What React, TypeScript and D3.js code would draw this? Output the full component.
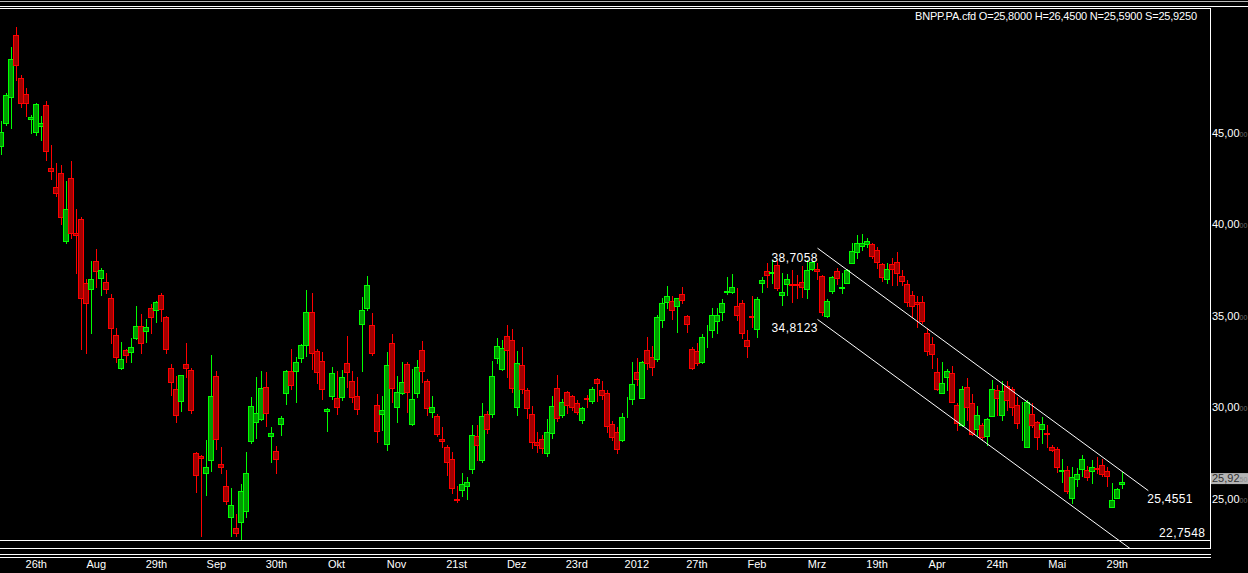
import React from 'react';
import * as d3 from 'd3';

// BNPP.PA daily candles (oldest first)
const open = [
  44.29, 45.55, 46.97, 50.36, 48.01, 47.13, 45.77, 45.06, 45.38, 46.53, 43.09, 42.05, 42.82, 39.10, 42.54, 39.54, 40.30, 36.80, 36.48, 38.01,
  37.08, 36.86, 35.98, 33.96, 32.16, 33.14, 33.03, 33.80, 34.45, 34.18, 35.44, 35.33, 36.15, 34.95, 32.16, 31.01, 30.36, 32.38, 32.05, 27.51,
  27.35, 26.42, 27.13, 31.72, 26.91, 25.71, 24.02, 23.42, 23.74, 24.35, 28.17, 29.21, 29.37, 31.12, 28.44, 27.62, 29.10, 30.79, 32.00, 32.00,
  32.71, 33.42, 35.22, 33.09, 32.54, 29.81, 30.63, 30.52, 30.57, 32.43, 31.45, 30.63, 34.56, 35.44, 34.51, 30.14, 29.65, 28.01, 33.53, 30.03,
  30.79, 32.38, 29.10, 30.79, 33.14, 31.45, 29.75, 29.54, 28.28, 27.84, 27.19, 25.00, 25.49, 25.71, 26.64, 28.44, 27.13, 29.65, 29.65, 32.71,
  32.10, 33.91, 33.69, 30.03, 32.32, 30.96, 29.65, 28.12, 28.28, 27.51, 28.61, 31.07, 29.59, 30.85, 30.63, 30.25, 29.32, 30.52, 30.36, 31.56,
  30.96, 30.79, 29.10, 28.66, 28.22, 29.79, 30.47, 31.94, 30.52, 33.14, 32.76, 32.65, 34.78, 35.77, 35.82, 35.55, 36.20, 35.00, 33.20, 33.09,
  32.49, 34.11, 34.24, 34.73, 35.22, 36.31, 36.31, 35.55, 35.71, 33.69, 35.00, 34.29, 36.80, 37.46, 37.35, 37.79, 36.15, 36.75, 36.75, 36.75,
  36.86, 36.48, 37.57, 37.57, 37.19, 35.00, 36.37, 37.46, 36.53, 36.80, 37.90, 38.50, 38.83, 38.93, 38.93, 38.61, 37.84, 37.02, 37.84, 37.95,
  37.19, 36.75, 36.15, 35.77, 35.77, 34.07, 33.47, 31.94, 30.79, 31.67, 31.89, 30.14, 29.04, 31.12, 30.25, 28.83, 29.04, 28.44, 29.54, 30.96,
  29.59, 31.18, 31.01, 30.14, 28.92, 27.84, 29.65, 29.21, 28.83, 28.63, 27.84, 27.73, 26.53, 26.59, 25.06, 26.09, 26.64, 26.59, 26.53, 26.69,
  26.86, 26.53, 24.56, 25.06, 25.80,
];
const high = [
  45.66, 47.19, 49.70, 50.79, 48.17, 47.46, 45.98, 46.64, 45.93, 46.75, 44.35, 43.36, 43.25, 42.38, 43.47, 40.85, 40.41, 37.02, 38.01, 38.66,
  37.62, 37.35, 36.20, 34.35, 33.58, 33.20, 33.80, 35.55, 35.11, 34.84, 35.66, 35.80, 36.26, 35.00, 32.38, 31.72, 31.80, 33.53, 32.16, 27.55,
  27.40, 28.22, 32.87, 32.00, 27.84, 26.59, 25.60, 24.18, 25.82, 27.57, 30.57, 31.67, 32.00, 31.94, 28.94, 27.90, 29.54, 32.05, 33.20, 32.76,
  33.45, 36.42, 36.26, 33.20, 33.03, 29.97, 32.21, 32.00, 32.05, 33.91, 32.00, 31.67, 36.04, 37.19, 35.16, 30.74, 30.63, 33.03, 34.02, 31.72,
  32.49, 32.49, 32.10, 32.60, 33.63, 31.56, 30.63, 29.65, 28.94, 27.95, 27.57, 25.71, 26.42, 26.20, 29.04, 29.04, 30.25, 29.81, 32.54, 33.80,
  33.69, 34.51, 34.29, 33.09, 33.31, 31.07, 30.08, 28.66, 28.50, 29.37, 30.63, 31.78, 30.47, 30.90, 30.68, 30.41, 30.03, 30.68, 31.12, 31.61,
  31.45, 30.96, 29.26, 28.94, 29.70, 30.57, 32.49, 32.71, 32.54, 33.85, 33.36, 35.05, 35.98, 36.64, 36.09, 36.00, 36.59, 35.05, 33.30, 33.53,
  34.02, 34.51, 35.44, 35.44, 35.93, 37.13, 37.30, 36.53, 35.87, 34.24, 36.09, 36.04, 37.13, 37.90, 38.06, 38.01, 37.35, 37.30, 37.51, 37.24,
  37.73, 38.06, 38.01, 37.90, 37.24, 35.93, 37.19, 37.62, 37.35, 37.55, 38.99, 39.43, 39.48, 39.26, 38.99, 38.77, 37.90, 37.90, 38.17, 38.50,
  37.51, 36.97, 36.37, 36.09, 36.09, 34.35, 33.85, 32.71, 32.49, 32.10, 32.27, 30.25, 31.18, 31.61, 30.74, 30.08, 29.15, 29.40, 31.50, 31.23,
  31.45, 31.45, 31.12, 30.57, 30.30, 30.41, 30.25, 29.26, 29.48, 29.04, 27.95, 27.84, 27.19, 26.80, 26.75, 26.69, 27.40, 26.80, 27.13, 27.30,
  27.19, 26.75, 25.87, 25.60, 26.45,
];
const low = [
  43.85, 45.44, 45.27, 47.90, 46.42, 45.93, 45.00, 44.89, 44.62, 43.53, 42.49, 41.56, 40.03, 38.99, 39.26, 37.35, 33.20, 32.98, 34.07, 36.59,
  36.15, 36.26, 33.53, 32.49, 32.10, 32.49, 32.49, 33.75, 32.98, 33.58, 34.07, 34.67, 34.73, 32.98, 30.68, 29.21, 29.81, 31.67, 29.70, 25.38,
  22.98, 25.22, 26.53, 27.73, 26.42, 24.73, 22.98, 22.98, 22.76, 24.02, 28.06, 28.33, 29.32, 28.99, 27.02, 26.42, 28.50, 30.19, 31.01, 30.30,
  32.49, 32.81, 32.10, 31.34, 30.47, 28.72, 30.47, 29.65, 30.41, 31.12, 30.30, 29.65, 32.00, 35.33, 32.87, 28.12, 28.77, 27.68, 30.30, 29.21,
  30.75, 29.75, 29.04, 30.57, 31.39, 29.59, 29.48, 28.44, 27.84, 26.31, 25.33, 24.84, 25.16, 25.00, 26.42, 27.13, 27.02, 28.61, 29.48, 32.43,
  32.05, 31.67, 30.85, 29.59, 30.79, 29.43, 27.79, 27.57, 27.51, 27.35, 28.33, 29.26, 29.48, 29.70, 29.86, 29.65, 29.15, 30.03, 30.25, 30.36,
  30.47, 28.66, 28.22, 27.51, 28.17, 29.48, 30.19, 31.23, 30.50, 32.10, 31.78, 32.54, 34.40, 35.44, 34.84, 34.13, 35.71, 34.13, 32.10, 32.32,
  32.43, 33.31, 33.85, 34.07, 34.78, 36.20, 36.28, 34.78, 33.80, 32.76, 34.40, 33.85, 36.31, 36.59, 36.80, 36.42, 35.60, 36.15, 35.77, 35.98,
  36.04, 35.98, 37.51, 37.02, 35.05, 34.95, 36.26, 36.75, 36.26, 36.78, 37.88, 38.17, 38.61, 38.77, 38.17, 37.62, 36.91, 36.80, 36.69, 36.69,
  36.69, 35.55, 34.95, 34.40, 34.62, 32.87, 32.16, 30.96, 30.77, 30.96, 30.28, 28.77, 28.99, 29.32, 28.50, 28.50, 28.22, 27.95, 29.52, 29.59,
  29.32, 29.86, 29.59, 28.88, 28.22, 27.82, 28.94, 27.73, 28.06, 27.84, 27.62, 26.48, 25.93, 25.33, 24.78, 25.71, 26.26, 26.04, 25.87, 26.42,
  26.26, 25.71, 24.55, 25.04, 25.59,
];
const close = [
  45.06, 47.08, 49.04, 48.72, 46.64, 46.64, 45.88, 46.59, 45.55, 44.02, 42.92, 41.72, 40.41, 40.85, 39.54, 39.43, 35.98, 35.71, 37.02, 37.46,
  37.51, 36.48, 34.35, 32.76, 32.65, 32.87, 33.31, 34.45, 33.53, 34.40, 34.95, 35.77, 35.38, 33.20, 31.39, 29.59, 31.78, 32.16, 29.86, 26.31,
  27.24, 26.75, 30.63, 28.28, 26.75, 24.89, 24.67, 23.14, 25.44, 26.42, 30.08, 29.70, 31.07, 29.70, 28.61, 27.19, 29.43, 32.00, 31.23, 32.49,
  33.42, 35.22, 32.98, 31.94, 31.01, 29.92, 31.89, 30.03, 31.67, 31.94, 30.57, 29.92, 35.33, 36.69, 32.98, 28.72, 29.86, 32.32, 31.07, 30.85,
  31.39, 30.85, 30.47, 32.21, 32.00, 29.97, 30.03, 28.55, 28.17, 27.02, 25.60, 24.95, 25.82, 25.93, 28.50, 27.95, 29.54, 28.83, 31.72, 33.36,
  33.25, 33.14, 31.07, 32.43, 31.01, 29.97, 28.12, 27.95, 27.79, 28.66, 30.08, 29.43, 30.30, 30.14, 30.03, 29.75, 29.97, 30.47, 31.01, 31.34,
  30.68, 28.99, 28.39, 27.73, 29.48, 29.83, 31.28, 31.56, 32.49, 32.43, 32.21, 34.95, 35.71, 36.09, 35.33, 35.98, 35.87, 34.56, 32.16, 32.43,
  33.85, 34.15, 35.05, 35.05, 35.71, 36.37, 36.59, 35.05, 34.07, 33.36, 34.95, 35.93, 36.97, 37.24, 37.40, 36.53, 36.31, 37.02, 36.69, 36.69,
  36.59, 37.51, 37.95, 37.46, 35.22, 35.82, 37.13, 37.08, 36.59, 37.51, 38.55, 38.99, 38.99, 39.10, 38.28, 37.95, 37.13, 37.57, 37.57, 37.35,
  36.91, 35.77, 35.55, 35.66, 34.73, 33.09, 32.92, 31.01, 31.34, 32.00, 30.30, 29.15, 31.01, 30.03, 28.55, 29.59, 28.39, 29.37, 31.01, 30.52,
  30.90, 30.41, 30.03, 29.15, 28.96, 30.30, 29.04, 28.39, 29.10, 28.55, 27.68, 26.75, 26.59, 25.44, 26.20, 26.37, 27.19, 26.20, 26.75, 26.64,
  26.37, 26.26, 24.95, 25.55, 25.925,
];

// bottom axis: a label every 12 sessions
const timeLabels = ['26th', 'Aug', '29th', 'Sep', '30th', 'Okt', 'Nov', '21st', 'Dez', '23rd', '2012', '27th', 'Feb', 'Mrz', '19th', 'Apr', '24th', 'Mai', '29th'];
const timeIdx = [7, 19, 31, 43, 55, 67, 79, 91, 103, 115, 127, 139, 151, 163, 175, 187, 199, 211, 223];
const priceTicks = [25, 30, 35, 40, 45];

// regression channel drawn on the chart
const chanStartIdx = 163.1;
const chanEndIdx = 229.2;
const upperStart = 38.7058;
const lowerStart = 34.8123;
const upperEnd = 25.4551;
const lowerLabel = 22.7548;

const title = 'BNPP.PA.cfd O=25,8000 H=26,4500 N=25,5900 S=25,9250';
const lastPrice = 25.925;

const W = 1248;
const H = 573;
const plotRight = 1210;
const plotTop = 8;
const plotBottom = 540;
const font = '"Liberation Sans", Arial, sans-serif';

const fmt = (v: number) => v.toFixed(4).replace('.', ',');

const App: React.FC = () => {
    const x = d3.scaleLinear().domain([0, open.length - 1]).range([1.2, 1122.3]);
    const y = d3.scaleLinear().domain([25, 45]).range([499, 133]);

    const candles = open.map((o, i) => {
        const c = close[i];
        const up = c >= o;
        const px = Math.round(x(i));
        const top = Math.round(y(Math.max(o, c))) + 0.5;
        const bot = Math.round(y(Math.min(o, c))) + 0.5;
        return (
            <g key={i}>
                <line x1={px + 0.5} x2={px + 0.5} y1={Math.round(y(high[i]))} y2={Math.round(y(low[i])) + 1}
                    stroke={up ? '#00ff00' : '#ff0000'} strokeWidth={1} />
                <rect x={px - 2.5} y={top} width={5} height={Math.max(bot - top, 0)}
                    fill={up ? '#009a00' : '#a00000'} stroke={up ? '#00ff00' : '#ff0000'} strokeWidth={1} />
            </g>
        );
    });

    const slope = (upperEnd - upperStart) / (chanEndIdx - chanStartIdx);
    const lowerEnd = lowerStart + slope * (chanEndIdx - chanStartIdx);
    const cur = y(lastPrice);

    return (
        <svg width={W} height={H} style={{ position: 'absolute', left: 0, top: 0, background: '#000' }}
            fontFamily={font}>
            <defs>
                <clipPath id="plot">
                    <rect x={0} y={plotTop + 1} width={plotRight} height={plotBottom - plotTop - 1} />
                </clipPath>
                <clipPath id="chan">
                    <rect x={0} y={plotTop + 1} width={plotRight} height={548 - plotTop - 1} />
                </clipPath>
            </defs>
            <rect x={0} y={0} width={W} height={H} fill="#000" />

            {/* window frame lines */}
            <line x1={0} x2={W} y1={1.5} y2={1.5} stroke="#b8b8b8" />
            <line x1={0} x2={W} y1={6.5} y2={6.5} stroke="#fff" />
            <line x1={0} x2={plotRight + 1} y1={plotTop + 0.5} y2={plotTop + 0.5} stroke="#fff" />
            <line x1={plotRight + 0.5} x2={plotRight + 0.5} y1={plotTop} y2={549} stroke="#fff" />
            <line x1={0} x2={plotRight + 1} y1={plotBottom + 0.5} y2={plotBottom + 0.5} stroke="#fff" />
            <line x1={0} x2={plotRight + 1} y1={548.5} y2={548.5} stroke="#fff" />
            <line x1={0} x2={plotRight + 1} y1={554.5} y2={554.5} stroke="#fff" />
            <line x1={0} x2={plotRight + 1} y1={557.5} y2={557.5} stroke="#fff" />

            <g clipPath="url(#plot)">{candles}</g>

            <g clipPath="url(#chan)" stroke="#fff" strokeWidth={1}>
                <line x1={x(chanStartIdx)} y1={y(upperStart)} x2={x(chanEndIdx)} y2={y(upperEnd)} />
                <line x1={x(chanStartIdx)} y1={y(lowerStart)} x2={x(chanEndIdx)} y2={y(lowerEnd)} />
            </g>

            <g fill="#fff" fontSize={12}>
                <text x={x(chanStartIdx)} y={y(upperStart) + 14} textAnchor="end" textLength={46}>{fmt(upperStart)}</text>
                <text x={x(chanStartIdx)} y={y(lowerStart) + 12.5} textAnchor="end" textLength={46}>{fmt(lowerStart)}</text>
                <text x={x(chanEndIdx) - 1} y={y(upperEnd) + 12.5} textLength={45}>{fmt(upperEnd)}</text>
                <text x={1205} y={y(lowerLabel) - 3} textAnchor="end" textLength={46}>{fmt(lowerLabel)}</text>
            </g>

            <text x={1197} y={20} fill="#fff" fontSize={11} textAnchor="end" textLength={282}>{title}</text>

            {/* price axis: trailing decimals fade out at the window edge */}
            <g fontSize={11}>
                {priceTicks.map(t => (
                    <text key={t} x={1212} y={y(t) + 3.5} fill="#fff">
                        {fmt(t).slice(0, 5)}<tspan fill="#6a6a6a" fontSize={7}>{fmt(t).slice(5)}</tspan>
                    </text>
                ))}
                <rect x={1211} y={cur - 9} width={W - 1211} height={11} fill="#b4b4b4" />
                <text x={1212} y={cur} fill="#303030">
                    {fmt(lastPrice).slice(0, 5)}<tspan fill="#8a8a8a" fontSize={7}>{fmt(lastPrice).slice(5)}</tspan>
                </text>
            </g>

            {/* time axis */}
            <g fontSize={11} fill="#fff" textAnchor="middle">
                {timeLabels.map((l, k) => (
                    <text key={k} x={x(timeIdx[k])} y={568}>{l}</text>
                ))}
            </g>
        </svg>
    );
};

export default App;
